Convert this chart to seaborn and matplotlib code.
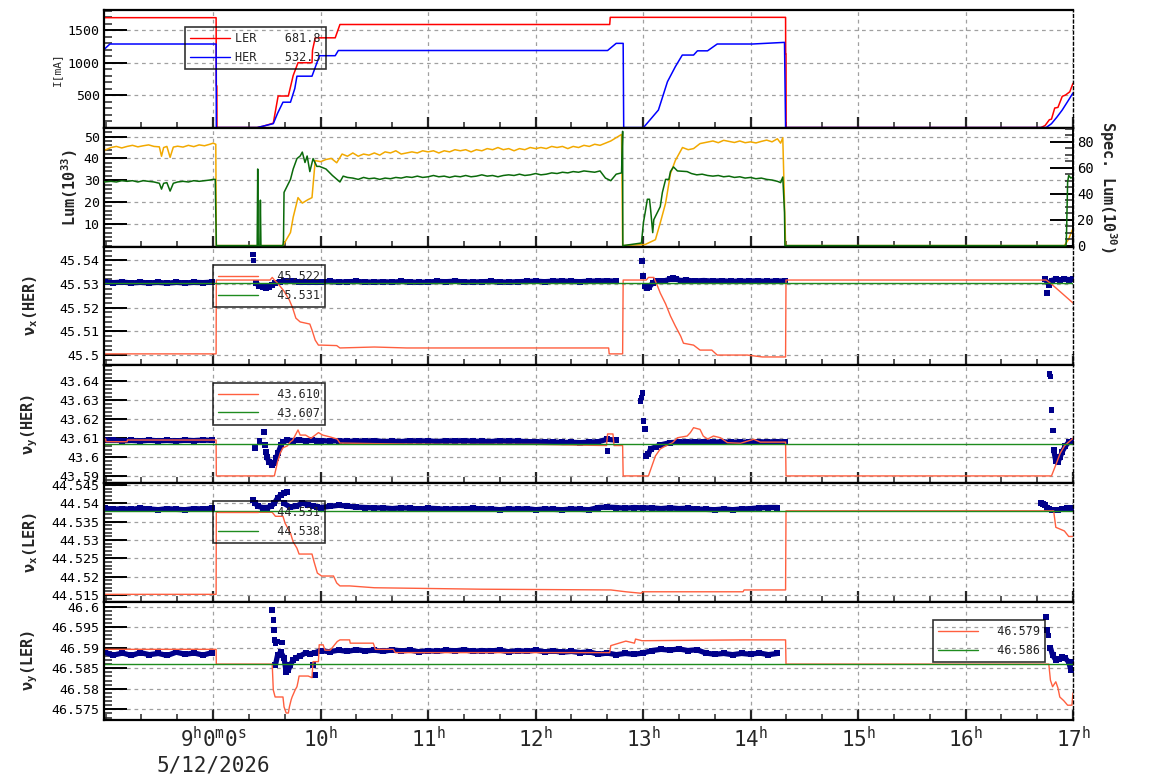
import numpy as np
import matplotlib
matplotlib.use("Agg")
import matplotlib.pyplot as plt
import matplotlib.ticker as mticker
import matplotlib.transforms as mtrans
from matplotlib.lines import Line2D
import seaborn as sns

sns.set_theme(style="white")
plt.rcParams["font.family"] = ["DejaVu Sans Mono"]
plt.rcParams["mathtext.fontset"] = "custom"
plt.rcParams["mathtext.rm"] = "DejaVu Sans Mono"
plt.rcParams["mathtext.it"] = "DejaVu Sans Mono"
plt.rcParams["mathtext.bf"] = "DejaVu Sans Mono:bold"
plt.rcParams["mathtext.default"] = "regular"

# ---------------------------------------------------------------- data
X_START, X_END = 7.985, 17.0
HOUR_TICKS = [9, 10, 11, 12, 13, 14, 15, 16, 17]
HOUR_LABELS = ["9$^{h}$0$^{m}$0$^{s}$", "10$^{h}$", "11$^{h}$", "12$^{h}$", "13$^{h}$",
               "14$^{h}$", "15$^{h}$", "16$^{h}$", "17$^{h}$"]
DATE_LABEL = "5/12/2026"
STEP = 1 / 12          # 5-minute sampling of the tune monitors
STEP_L = 0.05          # 3-minute sampling of the luminosity monitors

# beam currents [mA]
I_LER_T = [7.985, 9.028, 9.030, 9.035, 9.036, 9.410, 9.466, 9.560, 9.605, 9.700, 9.745, 9.790,
           9.920, 9.925, 9.950, 10.136, 10.180, 12.690, 12.695, 14.326, 14.327, 14.330, 14.331,
           16.700, 16.740, 16.780, 16.800, 16.830, 16.860, 16.900, 16.930, 16.970, 17.000]
I_LER_V = [1690, 1690, 640, 640, 0, 0, 20, 68, 485, 485, 800, 997, 997, 1190, 1380, 1380, 1585,
           1585, 1695, 1695, 1130, 1130, 0, 0, 30, 120, 130, 300, 310, 480, 500, 550, 680]
I_HER_T = [7.985, 8.040, 9.028, 9.030, 9.410, 9.560, 9.600, 9.650, 9.720, 9.760, 9.780, 9.920,
           9.990, 10.136, 10.165, 12.670, 12.750, 12.815, 12.820, 13.004, 13.143, 13.227, 13.300,
           13.365, 13.470, 13.506, 13.600, 13.690, 14.020, 14.316, 14.326, 16.750, 16.800,
           16.850, 16.900, 16.950, 17.000]
I_HER_V = [1200, 1285, 1285, 0, 0, 60, 220, 390, 390, 600, 790, 790, 1105, 1105, 1185, 1185,
           1295, 1295, 0, 0, 270, 705, 935, 1115, 1115, 1180, 1180, 1285, 1285, 1310, 0, 0, 60,
           160, 270, 400, 532]
I_LEGEND = ["LER    681.8", "HER    532.3"]

# luminosity [1e33] (left axis)
LUM_T_A = [7.985, 8.05, 8.1, 8.15, 8.2, 8.25, 8.3, 8.35, 8.4, 8.45, 8.5, 8.52, 8.54, 8.57, 8.6,
           8.63, 8.67, 8.72, 8.77, 8.82, 8.87, 8.92, 8.97, 9.0, 9.025, 9.03]
LUM_V_A = [43.6, 45.0, 45.5, 44.8, 45.5, 46.0, 45.3, 45.8, 46.2, 45.5, 45.3, 41.0, 45.0, 45.5,
           40.5, 45.2, 45.6, 45.2, 46.0, 45.4, 46.2, 45.8, 46.5, 47.0, 46.5, 0.0]
LUM_T_B1 = [9.65, 9.72, 9.745, 9.79, 9.83, 9.88, 9.92, 9.95, 10.0, 10.05, 10.1, 10.15]
LUM_V_B1 = [0, 6, 13, 22, 19.5, 21, 22, 39, 38.5, 39.5, 40, 38]
LUM_B2_START = 10.2
LUM_V_B2 = [42, 41, 42.5, 41, 42, 41.5, 42.5, 41.5, 43, 42.5,
            43.5, 42, 42.5, 43, 42.5, 43.5, 43, 43.5, 42.5, 43.5,
            43, 44, 43.5, 44, 43, 44, 43.5, 44.5, 44, 45,
            44, 44.5, 43.5, 44.5, 44, 45, 44.5, 45, 44.5, 45.5,
            45, 45.5, 44.5, 45.5, 45, 46, 45.5, 46.5, 46, 47,
            48, 49.5, 51]
LUM_T_C1 = [12.81, 13.02, 13.115, 13.16, 13.21, 13.255, 13.30, 13.367, 13.42, 13.47, 13.53]
LUM_V_C1 = [0, 0.5, 2.7, 10.4, 19.5, 33, 39, 45, 44, 44.5, 46.8]
LUM_C2_START = 13.6
LUM_V_C2 = [47.5, 48, 47.2, 48.3, 47.8, 47.3, 48, 47.2, 47.6, 47.1, 47.8, 48.4, 47.6, 49]
LUM_T_C3 = [14.28, 14.3, 14.326, 16.92, 16.96, 17.0]
LUM_V_C3 = [47, 49.5, 0, 0, 3, 8]

# specific luminosity [1e30] (right axis)
SPEC_T_A = [7.985, 8.05, 8.1, 8.15, 8.2, 8.25, 8.3, 8.35, 8.4, 8.45, 8.5, 8.52, 8.54, 8.57, 8.6,
            8.63, 8.67, 8.72, 8.77, 8.82, 8.87, 8.92, 8.97, 9.0, 9.02, 9.025, 9.03]
SPEC_V_A = [49, 49.5, 49, 50, 49.5, 50, 49, 50, 49.5, 49, 48, 43.5, 48, 48.5, 42, 48, 49, 49.5,
            49, 50, 49.5, 50, 50.5, 51, 51, 25.6, 0]
SPEC_T_B1 = [9.41, 9.415, 9.42, 9.435, 9.44, 9.445, 9.65, 9.655, 9.66, 9.72, 9.745, 9.78, 9.81,
             9.83, 9.855, 9.875, 9.90, 9.93, 9.965, 9.99, 10.05, 10.11, 10.18, 10.21, 10.25]
SPEC_V_B1 = [0, 59, 0, 0, 35, 0, 0, 4.7, 41, 51, 59, 67, 69, 72, 64, 69, 57, 67, 61, 61, 59, 54,
             49, 53.5, 52.5]
SPEC_B2_START = 10.3
SPEC_V_B2 = [52, 51, 52.5, 51.5, 52, 51, 52, 51.5, 52.5, 52,
             53, 52.5, 53.5, 52.5, 53, 54, 53, 53.5, 52.5, 53.5,
             53, 54, 53, 53.5, 54.5, 53.5, 54, 53, 54, 54.5,
             54, 55, 54, 54.5, 55.5, 54.5, 55, 56, 55.5, 56.5,
             56, 57, 56.5, 57.5, 57, 56.5, 57.5, 52, 50, 55]
SPEC_T_C1 = [12.8, 12.81, 12.812, 12.985, 12.995, 13.004, 13.02, 13.04, 13.06, 13.07, 13.09,
             13.1, 13.134, 13.16, 13.18, 13.21, 13.24, 13.255, 13.283, 13.32, 13.41]
SPEC_V_C1 = [56, 88, 0, 2, 10, 18, 25.6, 35.7, 35.7, 28, 10, 20, 25.6, 30, 41, 51, 51, 57, 60.6,
             57.5, 57]
SPEC_C2_START = 13.45
SPEC_V_C2 = [55.5, 54.5, 55, 54, 53.5, 54, 53, 53.5, 52.5, 53, 52, 52.5, 51.5, 52, 51, 50.5, 49.5]
SPEC_T_C3 = [14.28, 14.3, 14.316, 14.32, 16.935, 16.94, 16.95, 16.96, 16.98, 17.0]
SPEC_V_C3 = [48.5, 52.8, 25.6, 0, 0, 10, 49, 54, 52, 53]

# band sample starts
T_A0 = 7.99     # before the 9h abort
T_B0 = 10.0     # HER after re-injection, until 12.8h
T_C0 = 13.4     # HER after 13h
T_L0 = 10.0     # LER continuous until 14.33h

# ---- nu_x(HER)
NXH_A = [45.5308, 45.5306, 45.5308, 45.5305, 45.5307, 45.5305, 45.5307, 45.5304, 45.5307,
         45.5305, 45.5307, 45.5306, 45.5308]
NXH_T1 = [9.40, 9.43, 9.46, 9.49, 9.52, 9.55, 9.58, 9.62, 9.66, 9.70, 9.75, 9.80, 9.85, 9.90, 9.95]
NXH_V1 = [45.5303, 45.5293, 45.5286, 45.5283, 45.5287, 45.5296, 45.5305, 45.531, 45.5311,
          45.5312, 45.5311, 45.531, 45.5309, 45.531, 45.5309]
NXH_B = [45.5309, 45.5311, 45.5308, 45.531, 45.5311, 45.5309, 45.5308, 45.531, 45.5308, 45.5311,
         45.5309, 45.5307, 45.5309, 45.5311, 45.531, 45.5312, 45.5309, 45.5308, 45.531, 45.5311,
         45.5309, 45.5308, 45.531, 45.5311, 45.5312, 45.531, 45.5312, 45.5313, 45.5311, 45.531,
         45.5312, 45.5313, 45.5314, 45.5312]
NXH_T2 = [13.02, 13.04, 13.06, 13.09, 13.12, 13.16, 13.2, 13.25, 13.28, 13.31, 13.35]
NXH_V2 = [45.5292, 45.5285, 45.5288, 45.5305, 45.5312, 45.5313, 45.5314, 45.532, 45.5325,
          45.532, 45.5315]
NXH_C = [45.5316, 45.5313, 45.5315, 45.5312, 45.5314, 45.5311, 45.5313, 45.5312, 45.5314,
         45.5311, 45.5313, 45.5313]
NXH_T3 = [16.74, 16.78, 16.8, 16.84, 16.88, 16.92, 16.96, 17.0]
NXH_V3 = [45.532, 45.5295, 45.5315, 45.532, 45.5318, 45.5321, 45.5319, 45.532]
NXH_OUT_T = [9.37, 9.375, 12.99, 13.0, 16.76]
NXH_OUT_V = [45.5425, 45.540, 45.5397, 45.5333, 45.5262]
NXH_RED_T = [7.985, 9.028, 9.03, 9.53, 9.55, 9.57, 9.60, 9.66, 9.71, 9.74, 9.77, 9.81, 9.90,
             9.92, 9.95, 9.98, 10.01, 10.15, 10.18, 10.5, 10.8, 12.68, 12.685, 12.81, 12.815,
             13.03, 13.05, 13.10, 13.134, 13.16, 13.21, 13.255, 13.30, 13.35, 13.376, 13.47,
             13.53, 13.64, 13.69, 13.97, 14.11, 14.326, 14.33, 16.75, 16.8, 16.85, 16.9, 16.95,
             17.0]
NXH_RED_V = [45.5005, 45.5005, 45.5317, 45.5317, 45.5328, 45.5317, 45.5304, 45.527, 45.5232,
             45.5199, 45.5156, 45.514, 45.5131, 45.5106, 45.5063, 45.5042, 45.5042, 45.504,
             45.503, 45.5034, 45.503, 45.503, 45.5005, 45.5005, 45.5317, 45.5317, 45.5328,
             45.5328, 45.5292, 45.5262, 45.5216, 45.5165, 45.5123, 45.508, 45.505, 45.5042,
             45.5021, 45.5021, 45.5, 45.5, 45.4992, 45.4992, 45.5317, 45.5317, 45.530, 45.528,
             45.526, 45.524, 45.522]
NXH_REF = 45.5306
NXH_LEGEND = ["  45.522", "  45.531"]

# ---- nu_y(HER)
NYH_A = [43.6089, 43.6091, 43.6087, 43.6089, 43.6086, 43.609, 43.6087, 43.6089, 43.6086,
         43.609, 43.6088, 43.6091, 43.6089]
NYH_T1 = [9.50, 9.52, 9.55, 9.57, 9.587, 9.605, 9.633, 9.65, 9.69, 9.74, 9.8, 9.86, 9.92, 9.97]
NYH_V1 = [43.6002, 43.5975, 43.596, 43.597, 43.5996, 43.6023, 43.6065, 43.608, 43.6091,
          43.6088, 43.6092, 43.6086, 43.609, 43.6088]
NYH_B = [43.6088, 43.6085, 43.6088, 43.6084, 43.6086, 43.6084, 43.6088, 43.6083, 43.6085,
         43.6083, 43.6087, 43.6085, 43.6087, 43.6083, 43.6087, 43.6085, 43.6088, 43.6084,
         43.6085, 43.6083, 43.6087, 43.6084, 43.6086, 43.6082, 43.6083, 43.608, 43.6081,
         43.6078, 43.6079, 43.6077, 43.608, 43.6082, 43.6095, 43.609]
NYH_T2 = [13.03, 13.05, 13.07, 13.12, 13.16, 13.25, 13.33]
NYH_V2 = [43.6007, 43.6017, 43.6044, 43.6056, 43.6065, 43.6077, 43.608]
NYH_C = [43.6083, 43.608, 43.6083, 43.6079, 43.6082, 43.6079, 43.6081, 43.6079, 43.6083,
         43.608, 43.6083, 43.6081]
NYH_T3 = [16.82, 16.84, 16.86, 16.88, 16.9, 16.93, 16.96, 17.0]
NYH_V3 = [43.604, 43.598, 43.5975, 43.600, 43.603, 43.606, 43.608, 43.6088]
NYH_OUT_T = [9.39, 9.43, 9.475, 9.484, 9.49, 12.67, 12.976, 12.985, 12.995, 13.004, 13.02,
             16.78, 16.79, 16.80, 16.815]
NYH_OUT_V = [43.605, 43.6086, 43.6133, 43.6065, 43.6028, 43.6033, 43.6296, 43.6314, 43.634,
             43.619, 43.6149, 43.644, 43.6425, 43.625, 43.614]
NYH_RED_T = [7.985, 8.0, 8.003, 8.2, 8.203, 9.028, 9.03, 9.57, 9.60, 9.625, 9.65, 9.69, 9.72,
             9.74, 9.765, 9.79, 9.81, 9.86, 9.91, 9.95, 9.98, 10.02, 10.09, 10.155, 10.18, 10.5,
             10.8, 11.2, 12.0, 12.66, 12.67, 12.72, 12.73, 12.81, 12.815, 13.05, 13.115, 13.16,
             13.21, 13.274, 13.32, 13.41, 13.44, 13.47, 13.53, 13.56, 13.6, 13.655, 13.72,
             13.785, 13.906, 14.03, 14.09, 14.326, 14.33, 16.8, 16.84, 16.88, 16.92, 16.96, 17.0]
NYH_RED_V = [43.6096, 43.6096, 43.6082, 43.6082, 43.6091, 43.6091, 43.5902, 43.5902, 43.5977,
             43.6023, 43.605, 43.606, 43.6082, 43.609, 43.6117, 43.6144, 43.6117, 43.6117,
             43.61, 43.6117, 43.613, 43.6117, 43.6107, 43.6096, 43.6075, 43.6072, 43.607,
             43.6068, 43.6068, 43.6062, 43.6123, 43.6123, 43.6062, 43.6062, 43.5902, 43.5902,
             43.6007, 43.6044, 43.606, 43.6077, 43.6103, 43.6112, 43.613, 43.6156, 43.6147,
             43.6112, 43.6096, 43.6112, 43.6103, 43.6077, 43.6074, 43.6095, 43.608, 43.608,
             43.5902, 43.5902, 43.596, 43.602, 43.606, 43.608, 43.610]
NYH_REF = 43.6068
NYH_LEGEND = ["  43.610", "  43.607"]

# ---- nu_x(LER)
NXL_A = [44.5387, 44.5384, 44.5386, 44.5384, 44.5387, 44.5385, 44.5383, 44.5386, 44.5384,
         44.5383, 44.5386, 44.5385, 44.5387]
NXL_T1 = [9.37, 9.39, 9.42, 9.46, 9.50, 9.54, 9.57, 9.60, 9.63, 9.66, 9.69]
NXL_V1 = [44.5409, 44.5401, 44.5392, 44.5389, 44.5389, 44.5392, 44.5401, 44.5415, 44.5423,
          44.5428, 44.5431]
NXL_T2 = [9.66, 9.72, 9.77, 9.83, 9.88, 9.93, 9.97]
NXL_V2 = [44.540, 44.539, 44.5392, 44.5401, 44.5397, 44.5393, 44.539]
NXL_L = [44.5389, 44.5392, 44.5395, 44.5393, 44.539, 44.5389, 44.5388,
         44.5388, 44.5386, 44.5388, 44.5387, 44.5385, 44.5387, 44.5386, 44.5384, 44.5386,
         44.5385, 44.5387, 44.5385,
         44.5385, 44.5383, 44.5385, 44.5384, 44.5386, 44.5383, 44.5385, 44.5384, 44.5383,
         44.5385, 44.5384, 44.5383, 44.5389, 44.539,
         44.5389, 44.5387, 44.5389, 44.5388, 44.5388, 44.5386, 44.5388, 44.5386, 44.5387,
         44.5385, 44.5384, 44.5383, 44.5385, 44.5383, 44.5385, 44.5386, 44.5388, 44.5389,
         44.5389]
NXL_T3 = [16.70, 16.72, 16.74, 16.76, 16.78, 16.80, 16.83, 16.86, 16.9, 16.94, 16.98, 17.0]
NXL_V3 = [44.540, 44.5399, 44.5395, 44.5389, 44.5385, 44.5383, 44.5381, 44.5382, 44.5385,
          44.5387, 44.5388, 44.5388]
NXL_RED_T = [7.985, 9.028, 9.03, 9.55, 9.58, 9.65, 9.67, 9.72, 9.745, 9.78, 9.80, 9.92, 9.94,
             9.97, 10.01, 10.12, 10.15, 10.18, 10.27, 10.5, 11.5, 12.7, 12.84, 12.98, 13.0,
             13.93, 13.94, 14.326, 14.33, 16.82, 16.84, 16.92, 16.96, 17.0]
NXL_RED_V = [44.5152, 44.5152, 44.5376, 44.5376, 44.5365, 44.5365, 44.5346, 44.5319, 44.5295,
             44.5278, 44.5262, 44.5262, 44.524, 44.521, 44.5202, 44.5202, 44.5183, 44.5175,
             44.5175, 44.517, 44.5166, 44.5164, 44.5159, 44.5155, 44.5159, 44.5159, 44.5164,
             44.5164, 44.538, 44.538, 44.5335, 44.5325, 44.531, 44.531]
NXL_REF = 44.5379
NXL_LEGEND = ["  44.531", "  44.538"]

# ---- nu_y(LER)
NYL_A = [46.5889, 46.5882, 46.5887, 46.5881, 46.5888, 46.5883, 46.5886, 46.5881, 46.5889,
         46.5884, 46.5887, 46.5882, 46.5888]
NYL_T1 = [9.58, 9.6, 9.63, 9.66, 9.68, 9.70, 9.72, 9.745, 9.77, 9.81, 9.86, 9.9, 9.95]
NYL_V1 = [46.5858, 46.5882, 46.5889, 46.5875, 46.584, 46.5845, 46.5858, 46.587, 46.5875,
          46.588, 46.5887, 46.5885, 46.5888]
NYL_L = [46.5893, 46.589, 46.5894, 46.5891, 46.5895, 46.5892, 46.5894,
         46.5891, 46.5895, 46.5892, 46.5894, 46.589, 46.5893, 46.5891, 46.5894, 46.5892,
         46.5895, 46.5891, 46.5893,
         46.5892, 46.5894, 46.589, 46.5893, 46.5891, 46.5894, 46.589, 46.5892, 46.5889,
         46.5891, 46.5888, 46.589, 46.5884, 46.5887,
         46.5883, 46.5886, 46.5884, 46.5887, 46.5893, 46.5896, 46.5894, 46.5897, 46.5893,
         46.5895, 46.5887, 46.5884, 46.5886, 46.5883, 46.5886, 46.5884, 46.5887, 46.5883,
         46.5886]
NYL_T3 = [16.79, 16.81, 16.84, 16.87, 16.9, 16.93, 16.96, 16.98, 17.0]
NYL_V3 = [46.59, 46.5882, 46.587, 46.5872, 46.5878, 46.5874, 46.5865, 46.5846, 46.5865]
NYL_OUT_T = [9.55, 9.56, 9.565, 9.57, 9.58, 9.60, 9.64, 9.93, 9.95, 16.75, 16.76, 16.77]
NYL_OUT_V = [46.5992, 46.5967, 46.5943, 46.5919, 46.5911, 46.5915, 46.5913, 46.5858, 46.5834,
             46.5975, 46.5943, 46.593]
NYL_RED_T = [7.985, 9.028, 9.03, 9.55, 9.56, 9.577, 9.65, 9.66, 9.68, 9.70, 9.71, 9.726, 9.735,
             9.763, 9.78, 9.79, 9.80, 9.885, 9.92, 9.93, 9.98, 9.987, 10.024, 10.04, 10.09,
             10.155, 10.18, 10.27, 10.276, 10.49, 10.51, 10.676, 10.695, 12.69, 12.70, 12.84,
             12.92, 12.93, 12.99, 13.94, 14.326, 14.33, 16.775, 16.79, 16.81, 16.84, 16.86,
             16.877, 16.914, 16.95, 16.99, 17.0]
NYL_RED_V = [46.5896, 46.5896, 46.586, 46.586, 46.5797, 46.578, 46.578, 46.5756, 46.5741,
             46.5741, 46.5756, 46.5773, 46.578, 46.5797, 46.5805, 46.5817, 46.5831, 46.5831,
             46.5827, 46.5866, 46.5866, 46.5907, 46.5907, 46.5894, 46.5894, 46.5915, 46.5919,
             46.5919, 46.5911, 46.5911, 46.5896, 46.5896, 46.5888, 46.5888, 46.5905, 46.5916,
             46.5911, 46.5921, 46.5917, 46.5919, 46.5919, 46.586, 46.586, 46.5821, 46.5805,
             46.5817, 46.5802, 46.578, 46.5771, 46.576, 46.576, 46.579]
NYL_REF = 46.586
NYL_LEGEND = ["  46.579", "  46.586"]

# ---------------------------------------------------------------- style
C_LER, C_HER = "#ff0000", "#0000ff"
C_LUM, C_SPEC = "#f2a900", "#0a6a0a"
C_BAND, C_SET, C_REF = "#00008b", "#ff5f3f", "#1f8c1f"
GRID_KW = dict(color="#a0a0a0", linestyle=(0, (3, 3)), linewidth=0.9)
TICK_FS = 9.5


def grid_times(start, values, step):
    return list(start + np.arange(len(values)) * step)


def cat(*parts):
    out = []
    for p in parts:
        out += list(p)
    return out


def fmt(v, pos):
    return f"{v:.4f}".rstrip("0").rstrip(".")


def line(ax, t, v, color, lw=1.0, **kw):
    sns.lineplot(x=np.asarray(t, float), y=np.asarray(v, float), ax=ax, color=color,
                 linewidth=lw, sort=False, estimator=None, **kw)


def band(ax, t, v):
    line(ax, t, v, C_BAND, lw=3.8, marker="s", markersize=4.2, markeredgewidth=0)


def outliers(ax, t, v):
    sns.scatterplot(x=t, y=v, ax=ax, marker="s", s=16, color=C_BAND, edgecolor="none",
                    linewidth=0)


def style_axis(ax):
    ax.set_facecolor("white")
    for s in ("left", "top", "bottom"):
        ax.spines[s].set_visible(True)
        ax.spines[s].set_color("black")
        ax.spines[s].set_linewidth(1.6)
    ax.spines["right"].set_visible(True)
    ax.spines["right"].set_color("black")
    ax.spines["right"].set_linewidth(1.0)
    ax.spines["right"].set_linestyle((0, (2, 2)))
    ax.set_axisbelow(True)
    ax.grid(True, which="major", axis="both", **GRID_KW)
    ax.tick_params(axis="y", which="major", direction="in", length=16.5, width=1.4,
                   labelsize=TICK_FS, pad=3, left=True, right=False, colors="black")
    ax.tick_params(axis="y", which="minor", direction="in", length=5.5, width=1.1,
                   left=True, right=False)
    ax.tick_params(axis="x", which="major", direction="in", length=8, width=1.6,
                   labelsize=15, pad=4, bottom=True, top=False)
    ax.tick_params(axis="x", which="minor", direction="in", length=4, width=1.1,
                   bottom=True, top=False)
    ax.yaxis.set_major_formatter(mticker.FuncFormatter(fmt))


def legend(ax, colors, labels, x, y):
    handles = [Line2D([0], [0], color=c, lw=1.0) for c in colors]
    leg = ax.legend(handles, labels, loc="upper left", bbox_to_anchor=(x, y),
                    frameon=True, fancybox=False, fontsize=8.5, handlelength=3.4,
                    handletextpad=0.4, borderpad=0.45, labelspacing=0.45, borderaxespad=0)
    fr = leg.get_frame()
    fr.set_facecolor("none")
    fr.set_edgecolor("black")
    fr.set_linewidth(1.2)
    leg.set_zorder(5)


# ---------------------------------------------------------------- figure
fig, axes = plt.subplots(6, 1, sharex=True, figsize=(11.54, 7.82), dpi=100)
fig.patch.set_facecolor("white")
fig.subplots_adjust(left=104 / 1154, right=1073 / 1154, top=1 - 10 / 782,
                    bottom=1 - 720 / 782, hspace=0)
ax1, ax2, ax3, ax4, ax5, ax6 = axes
for ax in axes:
    style_axis(ax)

# panel 1 : currents
line(ax1, I_LER_T, I_LER_V, C_LER, lw=1.1)
line(ax1, I_HER_T, I_HER_V, C_HER, lw=1.1)
ax1.set_ylim(-12, 1808)
ax1.yaxis.set_major_locator(mticker.FixedLocator([500, 1000, 1500]))
ax1.yaxis.set_minor_locator(mticker.MultipleLocator(100))
ax1.set_ylabel("I[mA]", fontsize=8)
ax1.yaxis.set_label_coords(-0.0433, 0.5)
legend(ax1, [C_LER, C_HER], I_LEGEND, 0.0836, 0.856)

# panel 2 : luminosity
lum_t = cat(LUM_T_A, LUM_T_B1, grid_times(LUM_B2_START, LUM_V_B2, STEP_L), LUM_T_C1,
            grid_times(LUM_C2_START, LUM_V_C2, STEP_L), LUM_T_C3)
lum_v = cat(LUM_V_A, LUM_V_B1, LUM_V_B2, LUM_V_C1, LUM_V_C2, LUM_V_C3)
line(ax2, lum_t, lum_v, C_LUM, lw=1.1)
ax2.set_ylim(-0.5, 53.8)
ax2.yaxis.set_major_locator(mticker.FixedLocator([10, 20, 30, 40, 50]))
ax2.yaxis.set_minor_locator(mticker.MultipleLocator(2))
ax2.set_ylabel("Lum(10$^{\\mathbf{33}}$)", fontsize=11, fontweight="bold")
ax2.yaxis.set_label_coords(-0.0248, 0.5)

ax2r = ax2.twinx()
spec_t = cat(SPEC_T_A, SPEC_T_B1, grid_times(SPEC_B2_START, SPEC_V_B2, STEP_L), SPEC_T_C1,
             grid_times(SPEC_C2_START, SPEC_V_C2, STEP_L), SPEC_T_C3)
spec_v = cat(SPEC_V_A, SPEC_V_B1, SPEC_V_B2, SPEC_V_C1, SPEC_V_C2, SPEC_V_C3)
line(ax2r, spec_t, spec_v, C_SPEC, lw=1.1)
ax2r.set_ylim(-0.8, 90.3)
ax2r.grid(False)
for s in ("left", "top", "bottom"):
    ax2r.spines[s].set_visible(False)
ax2r.spines["right"].set_visible(True)
ax2r.spines["right"].set_color("black")
ax2r.spines["right"].set_linewidth(1.4)
ax2r.yaxis.set_major_locator(mticker.FixedLocator([0, 20, 40, 60, 80]))
ax2r.yaxis.set_minor_locator(mticker.MultipleLocator(5))
ax2r.yaxis.set_major_formatter(mticker.FuncFormatter(fmt))
ax2r.tick_params(axis="y", which="major", direction="in", length=16.5, width=1.4,
                 labelsize=TICK_FS + 0.5, pad=3, right=True, left=False, colors="black")
ax2r.tick_params(axis="y", which="minor", direction="in", length=5.5, width=1.1,
                 right=True, left=False)
ax2r.tick_params(axis="x", which="both", bottom=False, top=False, labelbottom=False)
ax2r.set_ylabel("Spec. Lum(10$^{\\mathbf{30}}$)", fontsize=11, fontweight="bold",
                rotation=270, va="bottom")
ax2r.yaxis.set_label_coords(1.025, 0.5)

# panel 3 : nu_x(HER)
band(ax3, grid_times(T_A0, NXH_A, STEP), NXH_A)
band(ax3, cat(NXH_T1, grid_times(T_B0, NXH_B, STEP)), cat(NXH_V1, NXH_B))
band(ax3, cat(NXH_T2, grid_times(T_C0, NXH_C, STEP)), cat(NXH_V2, NXH_C))
band(ax3, NXH_T3, NXH_V3)
outliers(ax3, NXH_OUT_T, NXH_OUT_V)
line(ax3, NXH_RED_T, NXH_RED_V, C_SET, lw=1.0)
ax3.axhline(NXH_REF, color=C_REF, lw=1.0)
ax3.set_ylim(45.4958, 45.5458)
ax3.yaxis.set_major_locator(mticker.MultipleLocator(0.01))
ax3.yaxis.set_minor_locator(mticker.MultipleLocator(0.002))
ax3.set_ylabel("ν$_{\\mathbf{x}}$(HER)", fontsize=11, fontweight="bold")
legend(ax3, [C_SET, C_REF], NXH_LEGEND, 0.1125, 0.845)

# panel 4 : nu_y(HER)
band(ax4, grid_times(T_A0, NYH_A, STEP), NYH_A)
band(ax4, cat(NYH_T1, grid_times(T_B0, NYH_B, STEP)), cat(NYH_V1, NYH_B))
band(ax4, cat(NYH_T2, grid_times(T_C0, NYH_C, STEP)), cat(NYH_V2, NYH_C))
band(ax4, NYH_T3, NYH_V3)
outliers(ax4, NYH_OUT_T, NYH_OUT_V)
line(ax4, NYH_RED_T, NYH_RED_V, C_SET, lw=1.0)
ax4.axhline(NYH_REF, color=C_REF, lw=1.0)
ax4.set_ylim(43.5863, 43.6486)
ax4.yaxis.set_major_locator(mticker.MultipleLocator(0.01))
ax4.yaxis.set_minor_locator(mticker.MultipleLocator(0.002))
ax4.set_ylabel("ν$_{\\mathbf{y}}$(HER)", fontsize=11, fontweight="bold")
legend(ax4, [C_SET, C_REF], NYH_LEGEND, 0.1125, 0.848)

# panel 5 : nu_x(LER)
band(ax5, grid_times(T_A0, NXL_A, STEP), NXL_A)
band(ax5, NXL_T1, NXL_V1)
band(ax5, cat(NXL_T2, grid_times(T_L0, NXL_L, STEP)), cat(NXL_V2, NXL_L))
band(ax5, NXL_T3, NXL_V3)
line(ax5, NXL_RED_T, NXL_RED_V, C_SET, lw=1.0)
ax5.axhline(NXL_REF, color=C_REF, lw=1.0)
ax5.set_ylim(44.5132, 44.5455)
ax5.yaxis.set_major_locator(mticker.MultipleLocator(0.005))
ax5.yaxis.set_minor_locator(mticker.MultipleLocator(0.001))
ax5.set_ylabel("ν$_{\\mathbf{x}}$(LER)", fontsize=11, fontweight="bold")
legend(ax5, [C_SET, C_REF], NXL_LEGEND, 0.1125, 0.85)

# panel 6 : nu_y(LER)
band(ax6, grid_times(T_A0, NYL_A, STEP), NYL_A)
band(ax6, cat(NYL_T1, grid_times(T_L0, NYL_L, STEP)), cat(NYL_V1, NYL_L))
band(ax6, NYL_T3, NYL_V3)
outliers(ax6, NYL_OUT_T, NYL_OUT_V)
line(ax6, NYL_RED_T, NYL_RED_V, C_SET, lw=1.0)
ax6.axhline(NYL_REF, color=C_REF, lw=1.0)
ax6.set_ylim(46.5724, 46.6012)
ax6.yaxis.set_major_locator(mticker.MultipleLocator(0.005))
ax6.yaxis.set_minor_locator(mticker.MultipleLocator(0.001))
ax6.set_ylabel("ν$_{\\mathbf{y}}$(LER)", fontsize=11, fontweight="bold")
legend(ax6, [C_SET, C_REF], NYL_LEGEND, 0.8555, 0.845)

for ax in (ax3, ax4, ax5, ax6):
    ax.yaxis.set_label_coords(-0.066, 0.5)

# shared time axis
ax6.set_xlim(X_START, X_END)
ax6.xaxis.set_major_locator(mticker.FixedLocator(HOUR_TICKS))
ax6.xaxis.set_major_formatter(mticker.FixedFormatter(HOUR_LABELS))
ax6.xaxis.set_minor_locator(mticker.MultipleLocator(1 / 3))
for ax in axes[:-1]:
    ax.tick_params(axis="x", labelbottom=False)
for ax in axes:
    ax.set_xlabel("")
trans = mtrans.blended_transform_factory(ax6.transData, ax6.transAxes)
ax6.text(9.0, -0.30, DATE_LABEL, transform=trans, ha="center", va="top", fontsize=15)

fig.savefig("out.png", dpi=100, facecolor="white")
